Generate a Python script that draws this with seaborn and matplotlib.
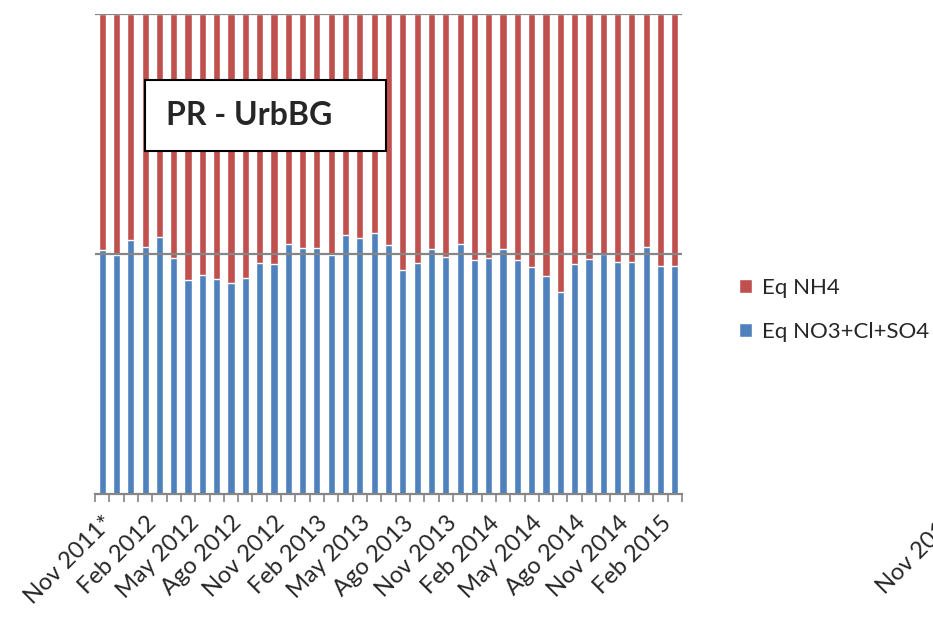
import numpy as np
import pandas as pd
import matplotlib
matplotlib.use("Agg")
import matplotlib.pyplot as plt
from matplotlib.patches import Rectangle
import seaborn as sns

# monthly samples, Nov 2011 .. Mar 2015
meses = ["Nov 2011*", "Dic 2011", "Ene 2012", "Feb 2012", "Mar 2012", "Abr 2012",
         "May 2012", "Jun 2012", "Jul 2012", "Ago 2012", "Sep 2012", "Oct 2012",
         "Nov 2012", "Dic 2012", "Ene 2013", "Feb 2013", "Mar 2013", "Abr 2013",
         "May 2013", "Jun 2013", "Jul 2013", "Ago 2013", "Sep 2013", "Oct 2013",
         "Nov 2013", "Dic 2013", "Ene 2014", "Feb 2014", "Mar 2014", "Abr 2014",
         "May 2014", "Jun 2014", "Jul 2014", "Ago 2014", "Sep 2014", "Oct 2014",
         "Nov 2014", "Dic 2014", "Ene 2015", "Feb 2015", "Mar 2015"]

# fraction of equivalents (NO3+Cl+SO4), the rest is NH4
eq_aniones = [50.8, 49.8, 53.0, 51.4, 53.5, 49.2, 44.6, 45.7, 44.7, 43.9, 45.1,
              48.1, 48.0, 52.0, 51.25, 51.25, 49.7, 54.0, 53.3, 54.4, 51.9,
              46.7, 48.1, 51.0, 49.4, 52.1, 48.75, 49.2, 51.0, 48.8, 47.3,
              45.4, 42.0, 47.9, 49.0, 49.9, 48.3, 48.3, 51.5, 47.4, 47.6]
eq_nh4 = [100 - v for v in eq_aniones]

etiquetas_cada = 3

df = pd.DataFrame({"mes": meses,
                   "aniones": np.array(eq_aniones) / 100,
                   "nh4": np.array(eq_nh4) / 100})
df["total"] = df["aniones"] + df["nh4"]

sns.set_style("white")
plt.rcParams["font.family"] = ["Lato", "DejaVu Sans"]

rojo = "#C0504D"
azul = "#4F81BD"

fig = plt.figure(figsize=(9.33, 6.2), dpi=100)
ax = fig.add_axes([95 / 933, 1 - 494 / 620, (682 - 95) / 933, 480 / 620])

sns.barplot(data=df, x="mes", y="total", color=rojo, width=0.5,
            saturation=1, ax=ax, label="Eq NH4", zorder=2)
sns.barplot(data=df, x="mes", y="aniones", color=azul, width=0.5,
            saturation=1, ax=ax, label="Eq NO3+Cl+SO4", zorder=2)

ax.set_xlim(-0.5, len(meses) - 0.5)
ax.set_ylim(0, 1)
for v in [0.5, 1.0]:
    ax.axhline(v, color="#868686", lw=1.6, zorder=3)

for s in ["top", "right", "left"]:
    ax.spines[s].set_visible(False)
ax.spines["bottom"].set_color("#868686")
ax.spines["bottom"].set_linewidth(1.6)
ax.set_yticks([])
ax.set_xlabel("")
ax.set_ylabel("")

# tick marks on category borders, labels every 3 months
ax.set_xticks(np.arange(-0.5, len(meses), 1))
ax.set_xticklabels([])
ax.tick_params(axis="x", which="major", length=6, width=1.2, color="#868686",
               direction="out", bottom=True)
pos = np.arange(0, len(meses), etiquetas_cada)
ax.set_xticks(pos, minor=True)
ax.set_xticklabels([meses[i] for i in pos], minor=True, rotation=45,
                   ha="right", rotation_mode="anchor", fontsize=17)
ax.tick_params(axis="x", which="minor", length=0, pad=13)

h, l = ax.get_legend_handles_labels()
ax.legend(h, l, loc="center left", bbox_to_anchor=(739 / 933, 1 - 310 / 620),
          bbox_transform=fig.transFigure, frameon=False, fontsize=16,
          borderpad=0, borderaxespad=0,
          handlelength=0.6, handleheight=0.6, handletextpad=0.45,
          labelspacing=1.1)

# title box
fig.patches.append(Rectangle((145 / 933, 1 - 151 / 620), 241 / 933, 71 / 620,
                             transform=fig.transFigure, facecolor="white",
                             edgecolor="black", lw=1.5, zorder=5))
fig.text(166 / 933, 1 - 115 / 620, "PR - UrbBG", fontsize=23,
         fontweight="bold", va="center", ha="left", zorder=6)

# label of the next chart, cut by the border like in the original
fig.text(888 / 933, 1 - 598 / 620, "Nov 2011*", fontsize=17, rotation=45,
         rotation_mode="anchor", ha="left", va="bottom")

fig.savefig("out.png", dpi=100)
